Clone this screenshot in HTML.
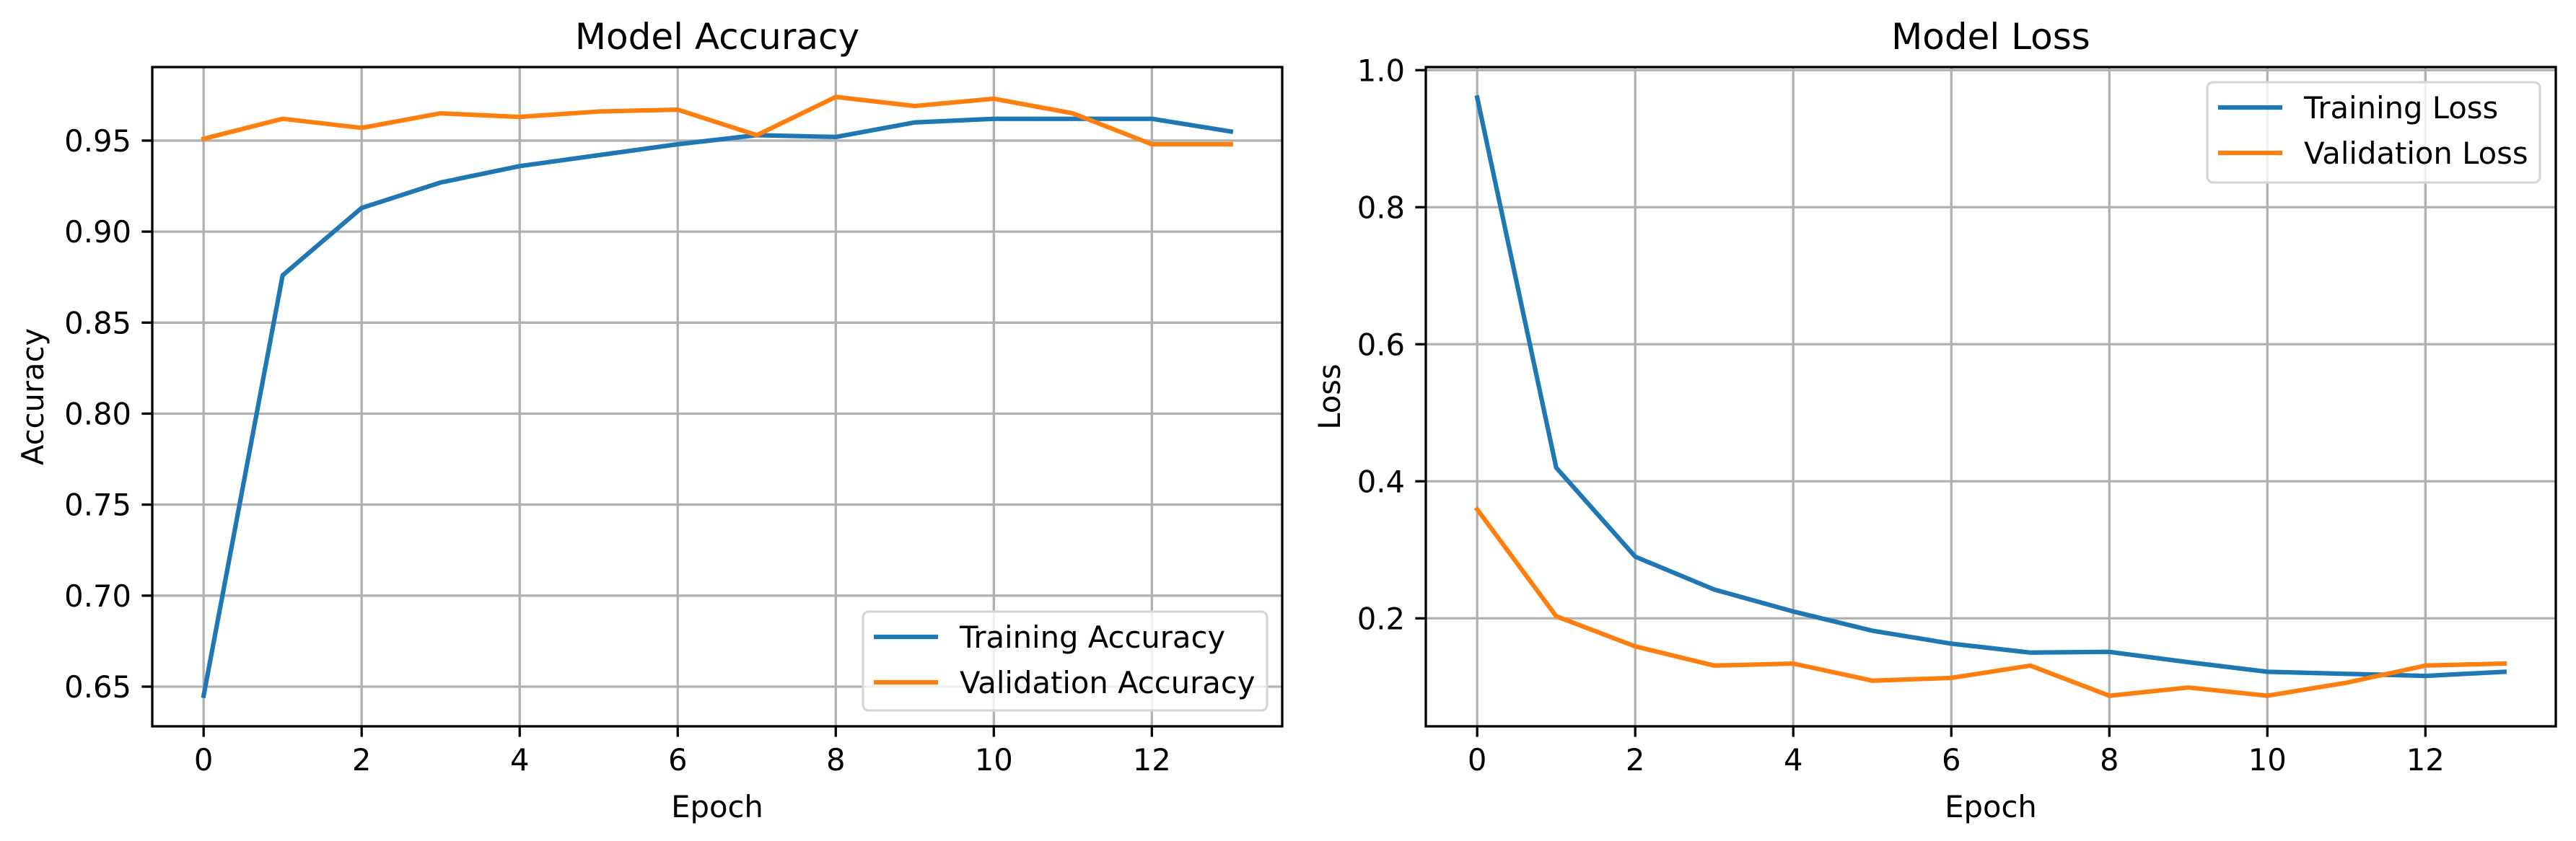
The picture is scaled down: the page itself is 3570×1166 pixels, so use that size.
<!DOCTYPE html>
<html><head><meta charset="utf-8"><style>
html,body{margin:0;padding:0;background:#fff;}
svg{display:block;font-family:"DejaVu Sans","Liberation Sans",sans-serif;}
</style></head><body>
<svg id="fig" width="3570" height="1166" viewBox="0 0 3570 1166" xmlns="http://www.w3.org/2000/svg"></svg>
<script>
const epochs = [0,1,2,3,4,5,6,7,8,9,10,11,12,13];
const trainAcc = [0.645,0.876,0.913,0.927,0.936,0.942,0.948,0.953,0.952,0.960,0.962,0.962,0.962,0.955];
const valAcc = [0.951,0.962,0.957,0.965,0.963,0.966,0.967,0.953,0.974,0.969,0.973,0.965,0.948,0.948];
const trainLoss = [0.960,0.420,0.290,0.242,0.210,0.182,0.163,0.150,0.151,0.136,0.122,0.119,0.116,0.122];
const valLoss = [0.359,0.203,0.159,0.131,0.134,0.109,0.113,0.131,0.087,0.099,0.087,0.106,0.131,0.134];
const xTicks = [0,2,4,6,8,10,12];
const accTicks = [0.65,0.70,0.75,0.80,0.85,0.90,0.95];
const lossTicks = [0.2,0.4,0.6,0.8,1.0];

const NS="http://www.w3.org/2000/svg";
const svg=document.getElementById('fig');
function mk(tag,attrs,parent){const e=document.createElementNS(NS,tag);for(const k in attrs)e.setAttribute(k,attrs[k]);(parent||svg).appendChild(e);return e;}

function panel(cfg){
  const g=mk('g',{});
  
  
  const L=cfg.left,R=cfg.right,T=93,B=1007;
  const xmin=-0.65,xmax=13.65;
  const sx=v=>L+(v-xmin)/(xmax-xmin)*(R-L);
  const sy=v=>B-(v-cfg.ymin)/(cfg.ymax-cfg.ymin)*(B-T);
  xTicks.forEach(t=>{
    const l=mk('line',{x1:sx(t),x2:sx(t),y1:T,y2:B,stroke:'#b0b0b0','stroke-width':3.3},g);
    
    
  });
  cfg.yTicks.forEach(t=>{
    const l=mk('line',{x1:L,x2:R,y1:sy(t),y2:sy(t),stroke:'#b0b0b0','stroke-width':3.3},g);
    
    
  });
  cfg.series.forEach(s=>{
    const pts=epochs.map((e,i)=>sx(e).toFixed(1)+','+sy(s.data[i]).toFixed(1)).join(' ');
    const p=mk('polyline',{points:pts,fill:'none',stroke:s.color,'stroke-width':6.25,'stroke-linejoin':'round','stroke-linecap':'square'},g);
    
    
  });
  const sp=mk('rect',{x:L,y:T,width:R-L,height:B-T,fill:'none',stroke:'#000','stroke-width':3.3},g);
  
  
  xTicks.forEach(t=>{
    mk('line',{x1:sx(t),x2:sx(t),y1:B,y2:B+14.6,stroke:'#000','stroke-width':3.3},g);
    const tx=mk('text',{x:sx(t),y:1068,'font-size':41.7,'text-anchor':'middle',fill:'#000'},g);
    tx.textContent=String(t);
    
    
  });
  cfg.yTicks.forEach(t=>{
    mk('line',{x1:L-14.6,x2:L,y1:sy(t),y2:sy(t),stroke:'#000','stroke-width':3.3},g);
    const tx=mk('text',{x:L-29,y:sy(t)+15,'font-size':41.7,'text-anchor':'end',fill:'#000'},g);
    tx.textContent=t.toFixed(cfg.dec);
    
    
  });
  const title=mk('text',{x:(L+R)/2,y:68,'font-size':50,'text-anchor':'middle',fill:'#000'},g);
  title.textContent=cfg.title;
  
  
  const xl=mk('text',{x:(L+R)/2,y:1133,'font-size':41.7,'text-anchor':'middle',fill:'#000'},g);
  xl.textContent='Epoch';
  
  
  const yl=mk('text',{x:0,y:0,'font-size':41.7,'text-anchor':'middle',fill:'#000',transform:`translate(${cfg.ylx},${(T+B)/2}) rotate(-90)`},g);
  yl.textContent=cfg.ylabel;
  
  
  const lg=mk('g',{},g);
  
  
  const b=cfg.legend;
  mk('rect',{x:b.x,y:b.y,width:b.w,height:b.h,rx:8,fill:'#fff','fill-opacity':0.8,stroke:'#d6d6d6','stroke-width':3.3},lg);
  cfg.series.forEach((s,i)=>{
    const yy=b.y+35+i*63;
    const ln=mk('line',{x1:b.x+15,x2:b.x+104,y1:yy,y2:yy,stroke:s.color,'stroke-width':6.25},lg);
    
    
    const tx=mk('text',{x:b.x+134,y:yy+15,'font-size':41.7,fill:'#000'},lg);
    tx.textContent=s.label;
    
    
  });
}
panel({name:'accuracy-chart',left:211,right:1777,ymin:0.6282,ymax:0.9904,yTicks:accTicks,dec:2,title:'Model Accuracy',ylabel:'Accuracy',ylx:60,
  series:[{key:'training-accuracy-line',data:trainAcc,color:'#1f77b4',label:'Training Accuracy'},{key:'validation-accuracy-line',data:valAcc,color:'#ff7f0e',label:'Validation Accuracy'}],
  legend:{x:1196,y:848,w:560,h:137}});
panel({name:'loss-chart',left:1976,right:3542,ymin:0.0424,ymax:1.0045,yTicks:lossTicks,dec:1,title:'Model Loss',ylabel:'Loss',ylx:1857,
  series:[{key:'training-loss-line',data:trainLoss,color:'#1f77b4',label:'Training Loss'},{key:'validation-loss-line',data:valLoss,color:'#ff7f0e',label:'Validation Loss'}],
  legend:{x:3059,y:114,w:461,h:139}});
</script>
</body></html>
